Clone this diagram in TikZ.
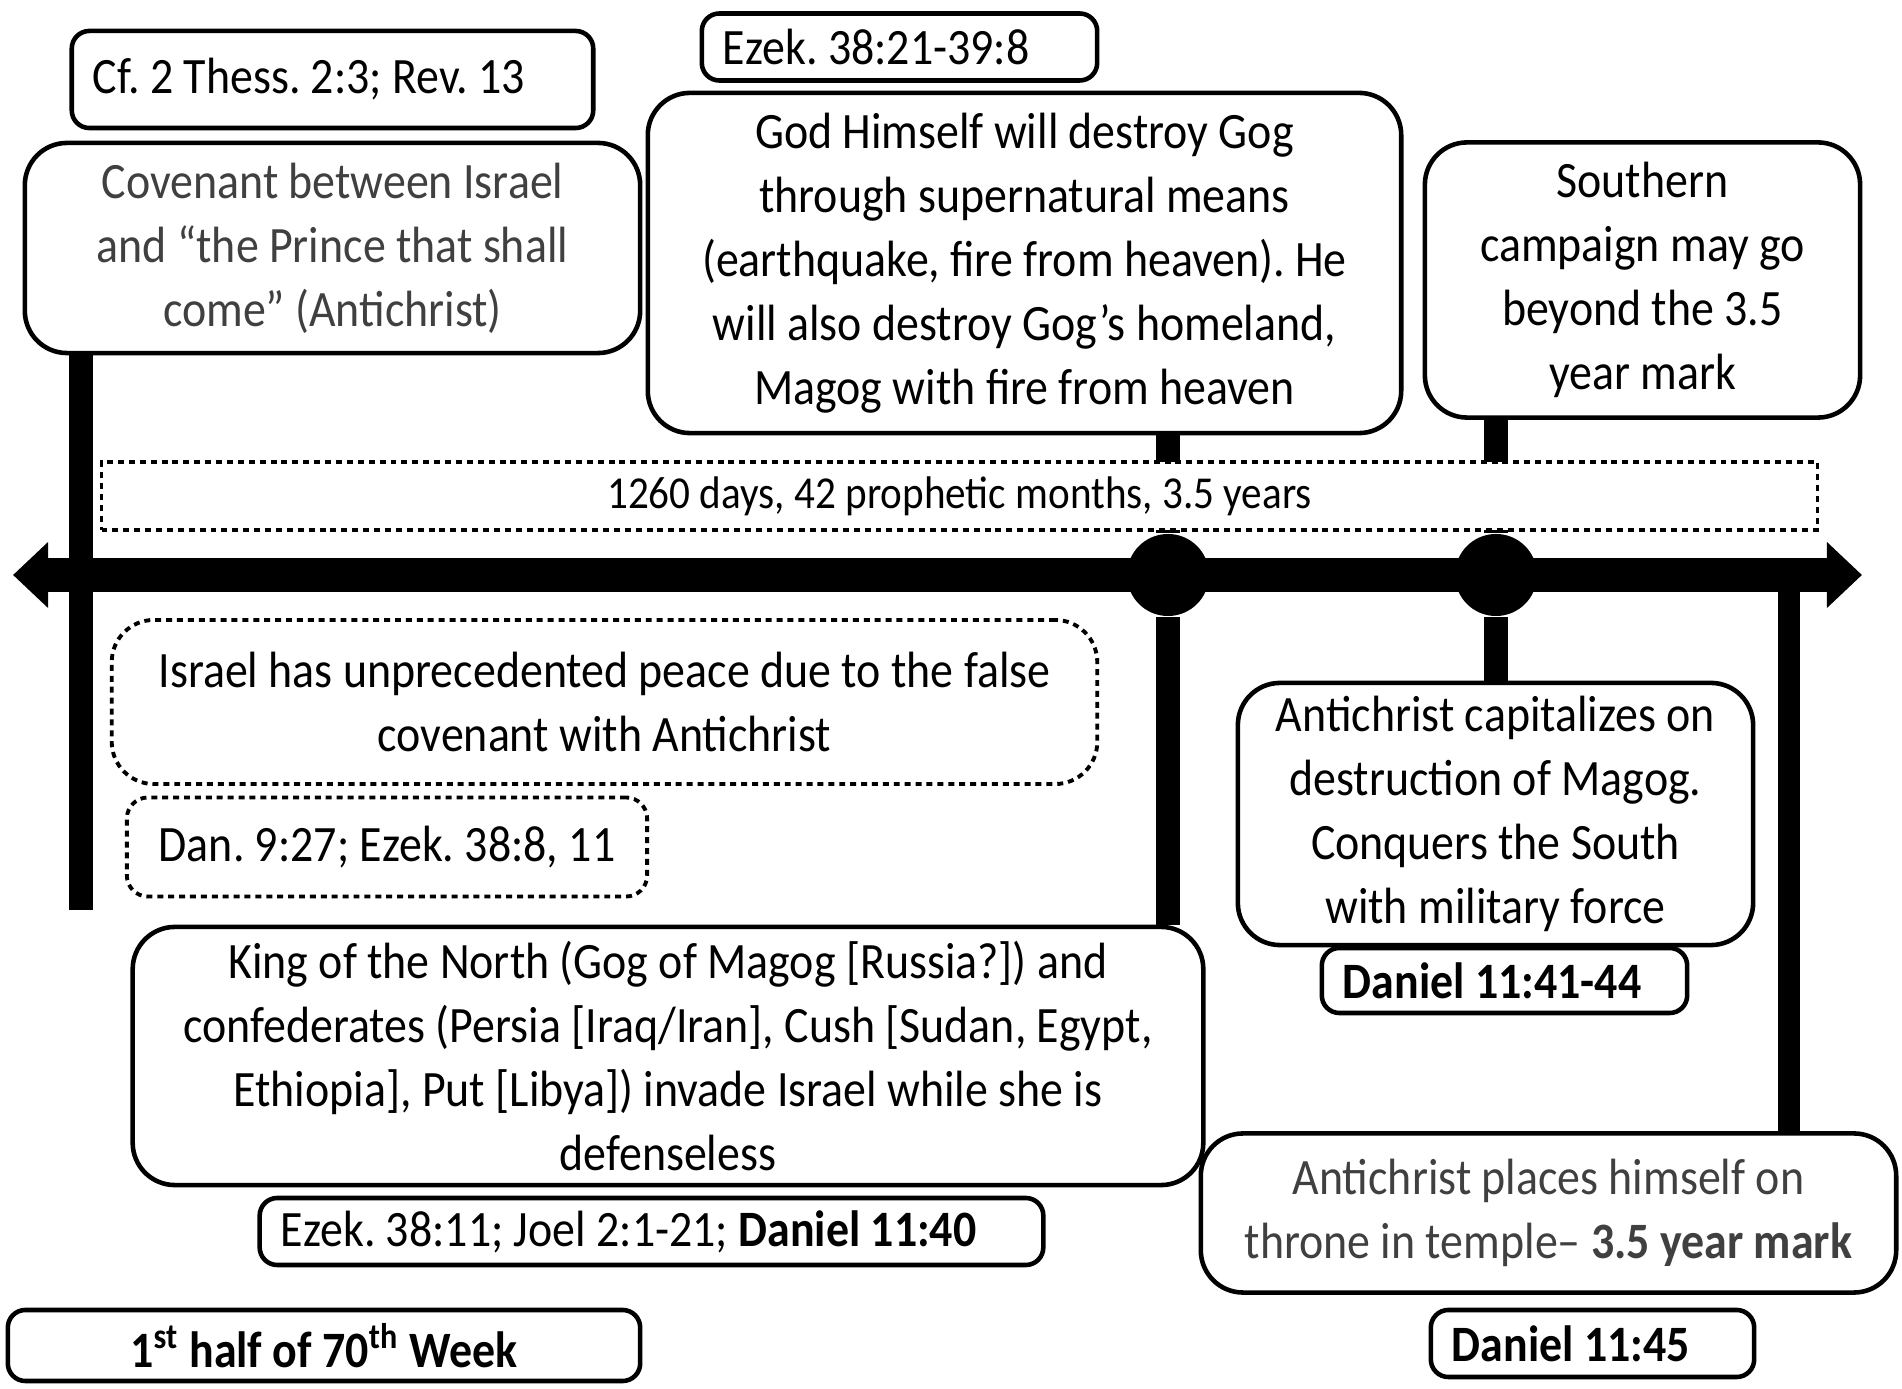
\documentclass[tikz,border=0pt]{standalone}
\usepackage{fontspec}
\setmainfont[FakeStretch=0.9]{Carlito}
\usetikzlibrary{arrows.meta}
\definecolor{txtgray}{HTML}{404040}
\frenchspacing

\begin{document}
\begin{tikzpicture}[x=0.01cm, y=-0.01cm,
    box/.style={draw, line width=1.3pt, rounded corners=12pt, fill=white, align=center, inner sep=2pt, font=\fontsize{14.5}{18.2}\selectfont},
    ref/.style={draw, line width=1.3pt, rounded corners=5pt, fill=white, align=left, inner xsep=6pt, inner ysep=0pt, font=\fontsize{14.5}{18.2}\selectfont,
        execute at begin node={\spaceskip=0pt\xspaceskip=0pt}},
    dotline/.style={line width=1.1pt, dash pattern=on 1.7pt off 1.4pt},
    event/.style={circle, fill, minimum size=0.82cm, inner sep=0pt}]
    \useasboundingbox (0,0) rectangle (1902,1389);

    \node[ref, text width=4.79cm, minimum height=0.97cm] (thess) at (332.5,79.5) {Cf. 2 Thess. 2:3; Rev. 13};
    \node[box, text=txtgray, minimum width=6.15cm, minimum height=2.1cm] (cov) at (332.5,248) {Covenant between Israel\\and “the Prince that shall\\come” (Antichrist)};
    \node[ref, text width=3.53cm, minimum height=0.67cm] (ezek1) at (899.5,47) {Ezek. 38:21-39:8};
    \node[box, minimum width=7.53cm, minimum height=3.4cm] (god) at (1024.5,263) {God Himself will destroy Gog\\through supernatural means\\(earthquake, fire from heaven). He\\will also destroy Gog’s homeland,\\Magog with fire from heaven};
    \node[box, minimum width=4.35cm, minimum height=2.75cm] (south) at (1642.5,280) {Southern\\campaign may go\\beyond the 3.5\\year mark};

    \coordinate (west) at (13,575);
    \coordinate (east) at (1862,575);
    \draw[line width=9.7pt, {Triangle[length=10pt, width=18.2pt]}-{Triangle[length=10pt, width=18.2pt]}] (west) -- (east);
    \node[event] (d1) at (1168,575) {};
    \node[event] (d2) at (1496,575) {};

    \coordinate (lbar) at (81,910);
    \coordinate (rbar) at (1789,575);
    \draw[line width=6.8pt] (cov.south -| lbar) -- (lbar);
    \draw[line width=7.1pt] (god.south -| d1) -- (d1);
    \draw[line width=7.1pt] (south.south -| d2) -- (d2);

    \node[draw, dotline, fill=white, minimum width=17.15cm, minimum height=0.68cm, inner sep=0pt, font=\fontsize{13}{16}\selectfont] (period) at (959.5,496) {1260 days, 42 prophetic months, 3.5 years};

    \node[box, dotline, minimum width=9.85cm, minimum height=1.64cm] (peace) at (604.5,702) {Israel has unprecedented peace due to the false\\covenant with Antichrist};
    \node[box, dotline, rounded corners=6pt, minimum width=5.2cm, minimum height=0.99cm] (dan) at (387,847) {Dan. 9:27; Ezek. 38:8, 11};

    \node[box, minimum width=5.15cm, minimum height=2.62cm] (conquer) at (1495.5,814) {Antichrist capitalizes on\\destruction of Magog.\\Conquers the South\\with military force};
    \node[ref, text width=3.23cm, minimum height=0.65cm] (dan44) at (1504.5,980.5) {\textbf{Daniel 11:41-44}};
    \draw[line width=7.1pt] (d2) -- (conquer.north -| d2);

    \node[box, minimum width=10.7cm, minimum height=2.58cm] (king) at (668,1056) {King of the North (Gog of Magog [Russia?]) and\\confederates (Persia [Iraq/Iran], Cush [Sudan, Egypt,\\Ethiopia], Put [Libya]) invade Israel while she is\\defenseless};
    \node[ref, text width=7.41cm, minimum height=0.67cm] (ezek2) at (651.5,1231.5) {Ezek. 38:11; Joel 2:1-21; \textbf{Daniel 11:40}};
    \draw[line width=7.1pt] (d1) -- (king.north -| d1);

    \node[box, text=txtgray, minimum width=6.95cm, minimum height=1.59cm] (places) at (1548.5,1213) {Antichrist places himself on\\throne in temple– \textbf{3.5 year mark}};
    \draw[line width=6.5pt] (rbar) -- (places.north -| rbar);
    \node[ref, text width=2.81cm, minimum height=0.67cm] (dan45) at (1592.5,1343.5) {\textbf{Daniel 11:45}};

    \node[box, rounded corners=5pt, inner ysep=0pt, minimum width=6.32cm, minimum height=0.71cm] (half) at (324,1345.5) {\textbf{1\textsuperscript{st} half of 70\textsuperscript{th} Week}};
\end{tikzpicture}
\end{document}
